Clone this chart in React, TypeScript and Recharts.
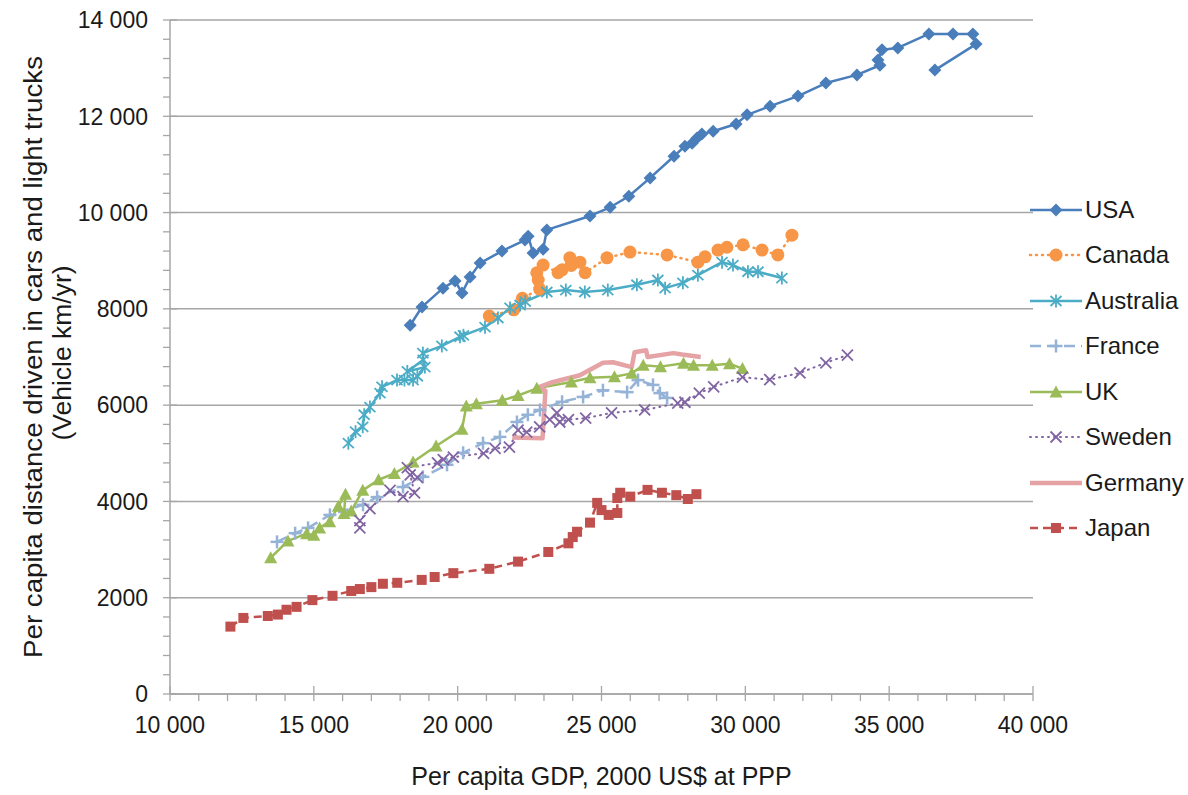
import React from 'react';
import { LineChart, Line, XAxis, YAxis, CartesianGrid, Legend } from 'recharts';

// per capita GDP (x) vs vehicle km per capita (y)
const usa = [
  [18350, 7660], [18760, 8040], [19490, 8430], [19910, 8580], [20150, 8330], [20430, 8660],
  [20780, 8950], [21540, 9200], [22340, 9430], [22450, 9510], [22620, 9160], [22970, 9240],
  [23100, 9640], [24600, 9930], [25300, 10110], [25950, 10340], [26690, 10720], [27520, 11170],
  [27900, 11380], [28150, 11440], [28320, 11550], [28490, 11630], [28880, 11690], [29680, 11840],
  [30060, 12030], [30860, 12210], [31830, 12420], [32800, 12690], [33880, 12860], [34680, 13060],
  [34610, 13170], [34750, 13380], [35300, 13420], [36380, 13710], [37220, 13710], [37910, 13710],
  [38020, 13500], [36590, 12960],
];
const canada = [
  [21100, 7850], [21950, 7980], [22250, 8220], [22850, 8410], [22800, 8600], [22750, 8750],
  [22970, 8910], [23490, 8750], [23630, 8810], [23900, 9060], [23950, 8900], [24250, 8970],
  [24430, 8750], [25190, 9060], [25990, 9180], [27280, 9120], [28350, 8970], [28600, 9080],
  [29050, 9220], [29360, 9280], [29920, 9330], [30580, 9220], [31130, 9120], [31620, 9530],
];
const australia = [
  [16200, 5210], [16450, 5450], [16700, 5550], [16750, 5800], [16950, 5960], [17300, 6250],
  [17370, 6380], [17890, 6520], [18150, 6520], [18450, 6520], [18600, 6600], [18860, 6790],
  [18250, 6700], [18800, 6940], [18790, 7080], [19450, 7230], [20080, 7420], [20200, 7450],
  [20950, 7620], [21400, 7810], [21820, 8020], [22170, 8080], [22350, 8150], [23100, 8350],
  [23760, 8390], [24420, 8350], [25220, 8390], [26230, 8500], [26960, 8600], [27210, 8430],
  [27830, 8540], [28350, 8700], [29190, 8970], [29570, 8910], [30090, 8770], [30440, 8770],
  [31270, 8640],
];
const france = [
  [13720, 3160], [14350, 3340], [14800, 3450], [15560, 3720], [16710, 3930], [17200, 4090],
  [18100, 4300], [18790, 4510], [19630, 4760], [20190, 5010], [20880, 5210], [21470, 5340],
  [22060, 5650], [22440, 5800], [22860, 5900], [23630, 6070], [24360, 6170], [25050, 6310],
  [25890, 6270], [26270, 6520], [26790, 6420], [27030, 6250], [27280, 6150],
];
const uk = [
  [13500, 2830], [14100, 3180], [14750, 3330], [15000, 3300], [15200, 3450], [15550, 3580],
  [15850, 3900], [16100, 4150], [16050, 3750], [16300, 3800], [16700, 4230], [17250, 4450],
  [17800, 4580], [18450, 4820], [19250, 5150], [20150, 5500], [20300, 5980], [20650, 6030],
  [21550, 6100], [22100, 6200], [22750, 6350], [23950, 6480], [24600, 6570], [25450, 6590],
  [26050, 6660], [26450, 6830], [27050, 6800], [27850, 6870], [28200, 6830], [28850, 6830],
  [29450, 6860], [29900, 6760],
];
const sweden = [
  [16600, 3450], [16600, 3600], [16950, 3850], [17650, 4230], [18100, 4100], [18500, 4180],
  [18350, 4550], [18600, 4500], [18250, 4700], [19300, 4800], [19500, 4870], [19850, 4920],
  [20900, 5000], [21300, 5100], [21800, 5130], [22100, 5480], [22400, 5440], [22850, 5550],
  [23200, 5700], [23450, 5840], [23550, 5650], [23850, 5700], [24450, 5730], [25350, 5840],
  [26500, 5900], [27650, 6040], [27900, 6060], [28400, 6250], [28900, 6380], [29900, 6580],
  [30850, 6530], [31900, 6670], [32800, 6880], [33550, 7040],
];
const germany = [
  [21900, 5330], [22950, 5310], [23050, 6300], [22750, 6360], [23250, 6470], [24250, 6620],
  [25050, 6880], [25400, 6890], [26050, 6790], [26150, 7100], [26550, 7140], [26600, 7000],
  [27500, 7080], [27800, 7050], [28450, 7000],
];
const japan = [
  [12100, 1400], [12550, 1580], [13400, 1620], [13750, 1650], [14050, 1750], [14400, 1810],
  [14950, 1950], [15650, 2040], [16300, 2140], [16600, 2180], [17000, 2220], [17400, 2290],
  [17900, 2310], [18750, 2370], [19200, 2430], [19850, 2510], [21100, 2600], [22100, 2750],
  [23150, 2950], [23850, 3130], [24000, 3260], [24150, 3370], [24600, 3560], [24850, 3970],
  [25000, 3820], [25250, 3720], [25550, 3760], [25550, 4070], [25650, 4180], [26000, 4100],
  [26600, 4240], [27100, 4180], [27600, 4130], [28000, 4050], [28300, 4150],
];

const xMajor = [10000, 15000, 20000, 25000, 30000, 35000, 40000];
const yMajor = [0, 2000, 4000, 6000, 8000, 10000, 12000, 14000];

const xTicks: number[] = [];
for (let i = 0; i < xMajor.length; i++) {
  xTicks.push(xMajor[i]);
  if (i < xMajor.length - 1) for (let k = 1; k < 5; k++) xTicks.push(xMajor[i] + k * 1000);
}
const yTicks: number[] = [];
for (let i = 0; i < yMajor.length; i++) {
  yTicks.push(yMajor[i]);
  if (i < yMajor.length - 1) for (let k = 1; k < 5; k++) yTicks.push(yMajor[i] + k * 400);
}

type Shape = 'diamond' | 'circle' | 'asterisk' | 'plus' | 'triangle' | 'cross' | 'square' | 'none';

const series: { name: string; points: number[][]; color: string; width: number; dash?: string; shape: Shape }[] = [
  { name: 'USA', points: usa, color: '#4a7ebb', width: 2.5, shape: 'diamond' },
  { name: 'Canada', points: canada, color: '#f79646', width: 2.5, dash: '1 5', shape: 'circle' },
  { name: 'Australia', points: australia, color: '#4bacc6', width: 2.5, shape: 'asterisk' },
  { name: 'France', points: france, color: '#95b3d7', width: 2.5, dash: '11 6', shape: 'plus' },
  { name: 'UK', points: uk, color: '#9bbb59', width: 2.5, shape: 'triangle' },
  { name: 'Sweden', points: sweden, color: '#8064a2', width: 2, dash: '1 5', shape: 'cross' },
  { name: 'Germany', points: germany, color: '#e6a3a5', width: 4.5, shape: 'none' },
  { name: 'Japan', points: japan, color: '#c0504d', width: 2.5, dash: '8 5', shape: 'square' },
];

const FONT = '"Liberation Sans", Arial, sans-serif';
const AXIS = '#a6a6a6';

const fmt = (v: number) =>
  v >= 10000 ? `${Math.floor(v / 1000)} ${String(v % 1000).padStart(3, '0')}` : String(v);

function Marker({ shape, cx, cy, color }: { shape: Shape; cx: number; cy: number; color: string }) {
  switch (shape) {
    case 'diamond':
      return <polygon points={`${cx},${cy - 6.5} ${cx + 6.5},${cy} ${cx},${cy + 6.5} ${cx - 6.5},${cy}`} fill={color} />;
    case 'circle':
      return <circle cx={cx} cy={cy} r={6.5} fill={color} />;
    case 'square':
      return <rect x={cx - 5} y={cy - 5} width={10} height={10} fill={color} />;
    case 'triangle':
      return <polygon points={`${cx},${cy - 6.5} ${cx + 6.5},${cy + 5.5} ${cx - 6.5},${cy + 5.5}`} fill={color} />;
    case 'plus':
      return (
        <g stroke={color} strokeWidth={2.5}>
          <line x1={cx - 6.5} x2={cx + 6.5} y1={cy} y2={cy} />
          <line x1={cx} x2={cx} y1={cy - 6.5} y2={cy + 6.5} />
        </g>
      );
    case 'cross':
      return (
        <g stroke={color} strokeWidth={1.8}>
          <line x1={cx - 5.5} x2={cx + 5.5} y1={cy - 5.5} y2={cy + 5.5} />
          <line x1={cx - 5.5} x2={cx + 5.5} y1={cy + 5.5} y2={cy - 5.5} />
        </g>
      );
    case 'asterisk':
      return (
        <g stroke={color} strokeWidth={1.8}>
          <line x1={cx - 5.5} x2={cx + 5.5} y1={cy - 5} y2={cy + 5} />
          <line x1={cx - 5.5} x2={cx + 5.5} y1={cy + 5} y2={cy - 5} />
          <line x1={cx} x2={cx} y1={cy - 6.5} y2={cy + 6.5} />
        </g>
      );
    default:
      return null;
  }
}

function YTick(props: any) {
  const { x, y, payload } = props;
  const major = payload.value % 2000 === 0;
  return (
    <g>
      <line x1={x - 7} x2={major ? x + 7 : x} y1={y} y2={y} stroke={AXIS} strokeWidth={1.3} />
      {major && (
        <text x={x - 22} y={y} dy="0.36em" textAnchor="end" fontSize={23} fill="#1a1a1a" fontFamily={FONT}>
          {fmt(payload.value)}
        </text>
      )}
    </g>
  );
}

function XTick(props: any) {
  const { x, y, payload } = props;
  const major = payload.value % 5000 === 0;
  return (
    <g>
      <line x1={x} x2={x} y1={major ? y - 8 : y} y2={y + 7} stroke={AXIS} strokeWidth={1.3} />
      {major && (
        <text x={x} y={y + 39} textAnchor="middle" fontSize={23} fill="#1a1a1a" fontFamily={FONT}>
          {fmt(payload.value)}
        </text>
      )}
    </g>
  );
}

function LegendBox() {
  return (
    <div style={{ fontFamily: FONT }}>
      {series.map((s) => (
        <div key={s.name} style={{ display: 'flex', alignItems: 'center', height: 45.5 }}>
          <svg width={56} height={20} style={{ overflow: 'visible' }}>
            <line
              x1={2}
              x2={54}
              y1={10}
              y2={10}
              stroke={s.color}
              strokeWidth={s.width}
              strokeDasharray={s.dash}
              strokeLinecap={s.dash === '1 5' ? 'round' : 'butt'}
            />
            <Marker shape={s.shape} cx={28} cy={10} color={s.color} />
          </svg>
          <span style={{ fontSize: 24, color: '#1a1a1a', marginLeft: 1 }}>{s.name}</span>
        </div>
      ))}
    </div>
  );
}

export default function App() {
  return (
    <div style={{ position: 'absolute', left: 0, top: 0, background: '#fff' }}>
      <LineChart width={1188} height={795} margin={{ top: 20, right: 155, left: 0, bottom: 0 }}>
        <CartesianGrid vertical={false} horizontalValues={yMajor} stroke={AXIS} strokeWidth={1.5} />
        <XAxis
          type="number"
          dataKey="x"
          domain={[10000, 40000]}
          ticks={xTicks}
          interval={0}
          height={101}
          tickSize={0}
          tickMargin={0}
          tick={<XTick />}
          axisLine={{ stroke: AXIS, strokeWidth: 1.5 }}
          allowDataOverflow
          label={{
            content: (p: any) => {
              const vb = p.viewBox;
              return (
                <text x={vb.x + vb.width / 2} y={vb.y + 91} textAnchor="middle" fontSize={25} fill="#1a1a1a" fontFamily={FONT}>
                  Per capita GDP, 2000 US$ at PPP
                </text>
              );
            },
          }}
        />
        <YAxis
          type="number"
          dataKey="y"
          domain={[0, 14000]}
          ticks={yTicks}
          interval={0}
          width={170}
          tickSize={0}
          tickMargin={0}
          tick={<YTick />}
          axisLine={{ stroke: AXIS, strokeWidth: 1.5 }}
          allowDataOverflow
          label={{
            content: (p: any) => {
              const vb = p.viewBox;
              const cy = vb.y + vb.height / 2;
              return (
                <g fontSize={26} fill="#1a1a1a" fontFamily={FONT}>
                  <text
                    transform={`translate(42,${cy}) rotate(-90)`}
                    textAnchor="middle"
                    textLength={602}
                    lengthAdjust="spacingAndGlyphs"
                  >
                    Per capita distance driven in cars and light trucks
                  </text>
                  <text
                    transform={`translate(71,${cy - 4}) rotate(-90)`}
                    textAnchor="middle"
                    textLength={175}
                    lengthAdjust="spacingAndGlyphs"
                  >
                    (Vehicle km/yr)
                  </text>
                </g>
              );
            },
          }}
        />
        <Legend
          layout="vertical"
          align="center"
          verticalAlign="middle"
          wrapperStyle={{ left: 1028, top: 187, width: 160 }}
          content={<LegendBox />}
        />
        {series.map((s) => (
          <Line
            key={s.name}
            name={s.name}
            data={s.points.map(([x, y]) => ({ x, y }))}
            dataKey="y"
            type="linear"
            stroke={s.color}
            strokeWidth={s.width}
            strokeDasharray={s.dash}
            strokeLinecap={s.dash === '1 5' ? 'round' : 'butt'}
            strokeLinejoin="round"
            isAnimationActive={false}
            dot={(d: any) => (
              <Marker key={`${s.name}-${d.index}`} shape={s.shape} cx={d.cx} cy={d.cy} color={s.color} />
            )}
            activeDot={false}
          />
        ))}
      </LineChart>
    </div>
  );
}
